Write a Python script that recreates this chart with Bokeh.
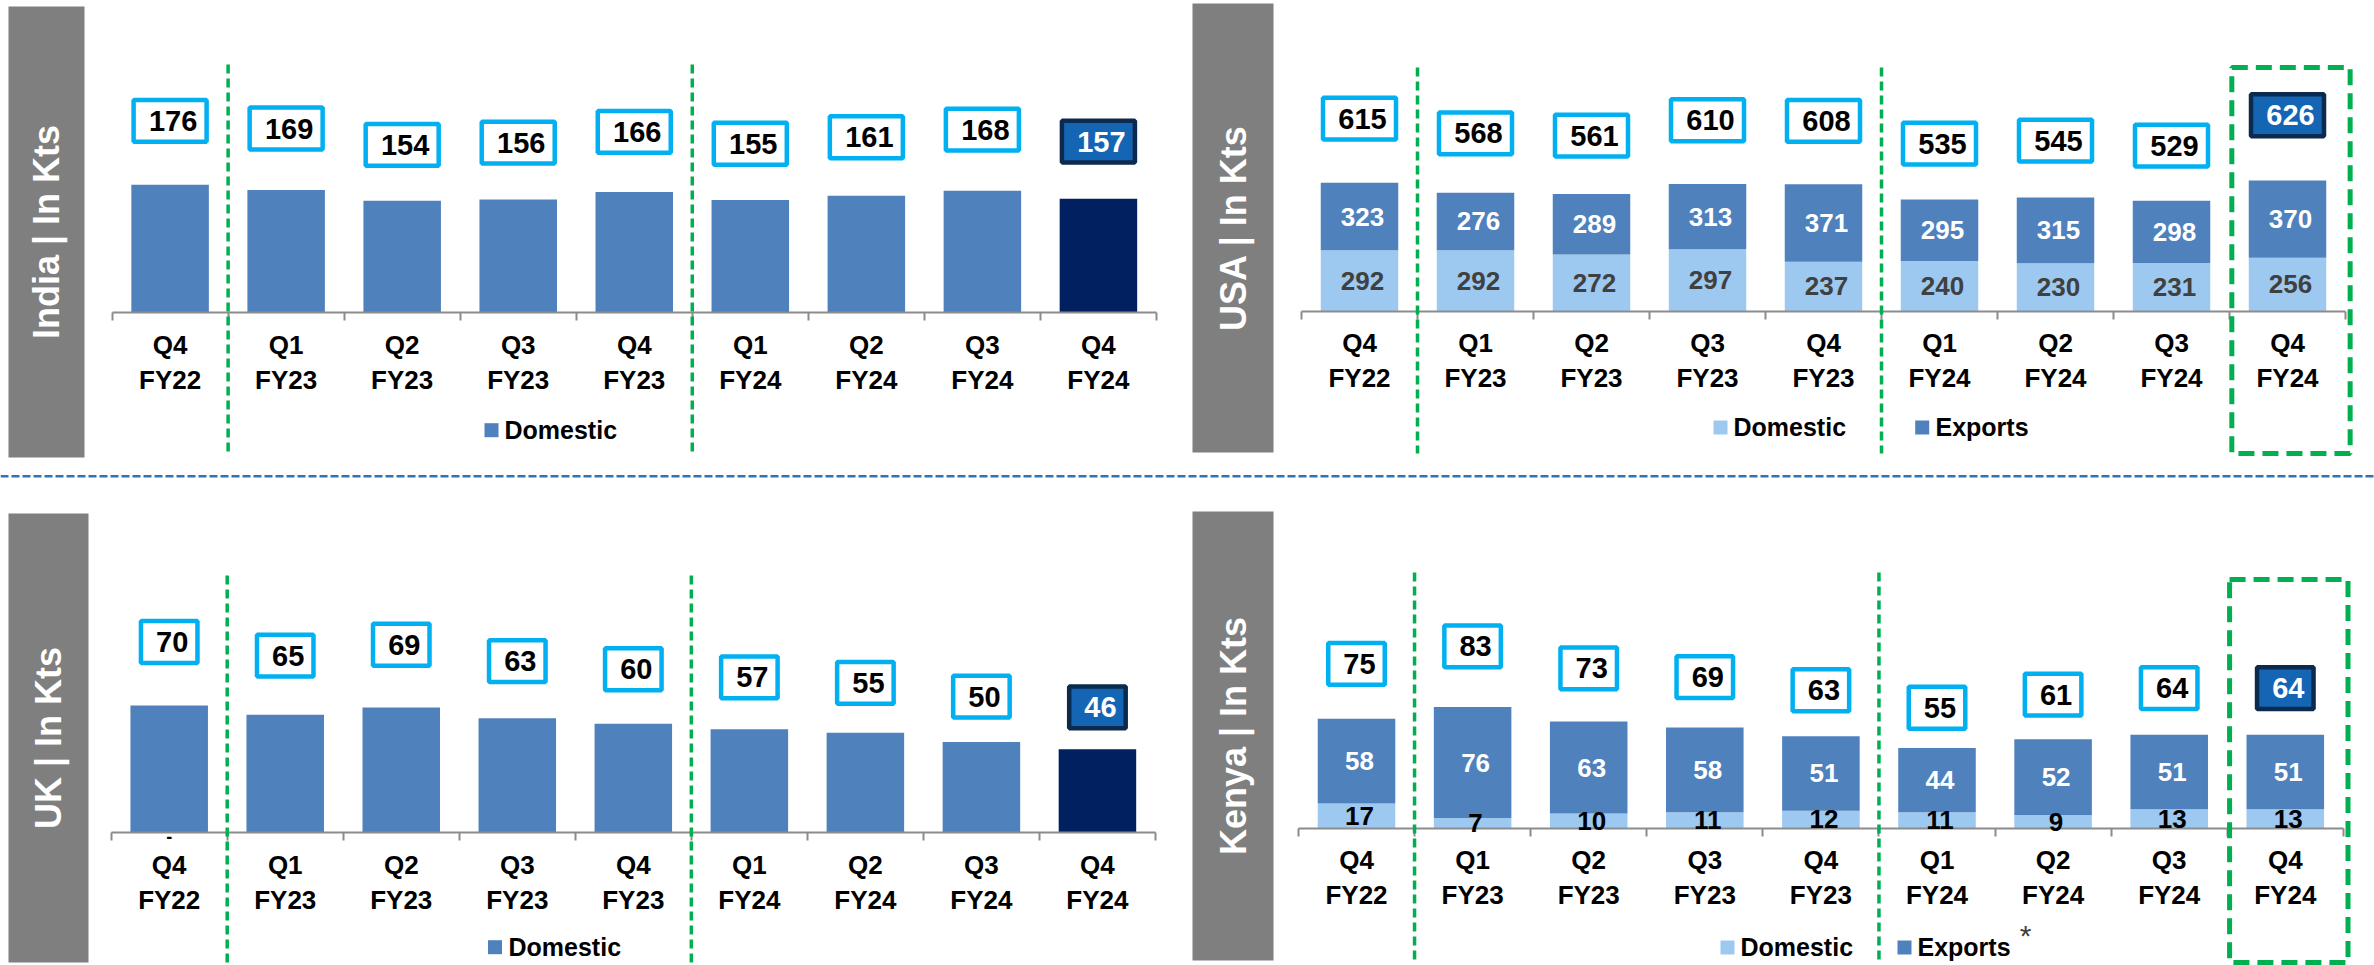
import math
from bokeh.plotting import figure
from bokeh.models import Range1d, LinearAxis, FixedTicker
from bokeh.core.properties import value
from bokeh.embed import file_html
from bokeh.resources import INLINE

# ---------------- data ----------------
quarter_labels = ["Q4", "Q1", "Q2", "Q3", "Q4", "Q1", "Q2", "Q3", "Q4"]
year_labels = ["FY22", "FY23", "FY23", "FY23", "FY23", "FY24", "FY24", "FY24", "FY24"]

india_domestic = [176, 169, 154, 156, 166, 155, 161, 168, 157]
uk_domestic = [70, 65, 69, 63, 60, 57, 55, 50, 46]
usa_domestic = [292, 292, 272, 297, 237, 240, 230, 231, 256]
usa_exports = [323, 276, 289, 313, 371, 295, 315, 298, 370]
kenya_domestic = [17, 7, 10, 11, 12, 11, 9, 13, 13]
kenya_exports = [58, 76, 63, 58, 51, 44, 52, 51, 51]

panel_titles = {"india": "India | In Kts", "usa": "USA | In Kts",
                "uk": "UK | In Kts", "kenya": "Kenya | In Kts"}
series_names = ["Domestic", "Exports"]

# ---------------- styling / layout ----------------
W, H, OFF = 2374, 965, 0
FONT = "Liberation Sans"
BLUE = "#4F81BD"
NAVY = "#002060"
LIGHT = "#9DC8F0"
CYAN = "#00B0F0"
HL_FILL = "#1565B5"
HL_LINE = "#0B2A4E"
GRAY = "#7F7F7F"
GREEN = "#00B050"
AXIS = "#8C8C8C"
LABEL_FACTOR = 1.5  # total labels sit on a hidden line at 1.5x the total

geom = {
    "india": dict(px0=169.6, step=116.04, base=312.3, k=0.727,
                  box=(8, 84, 6, 457), vl=(64, 452)),
    "usa": dict(px0=1359.0, step=116.0, base=310.7, k=0.2087,
                box=(1192, 1273, 3, 452), vl=(67, 453), hl=(67, 453)),
    "uk": dict(px0=168.7, step=116.03, base=832.3, k=1.817,
               box=(8, 88, 513, 962), vl=(575, 962)),
    "kenya": dict(px0=1356.0, step=116.1, base=827.7, k=1.46,
                  box=(1192, 1273, 511, 960), vl=(572, 961), hl=(579, 962)),
}

p = figure(width=W, height=H, x_range=Range1d(OFF, OFF + W), y_range=Range1d(OFF + H, OFF),
           x_axis_type=None, y_axis_type=None, toolbar_location=None,
           output_backend="svg", min_border=0)
p.outline_line_color = None
p.background_fill_color = "white"
p.border_fill_color = "white"

xr, yr = {}, {}
for key, g in geom.items():
    x0 = (OFF - g["px0"]) / g["step"]
    xr[key] = Range1d(x0, x0 + W / g["step"])
    y1 = (g["base"] - OFF) / g["k"]
    yr[key] = Range1d(y1 - H / g["k"], y1)
p.extra_x_ranges = xr
p.extra_y_ranges = yr

n = len(quarter_labels)
idx = list(range(n))
tick_text = {i: f"{q}\n{y}" for i, (q, y) in enumerate(zip(quarter_labels, year_labels))}
year_breaks = [i - 0.5 for i in range(1, n) if year_labels[i] != year_labels[i - 1]]


def draw_panel(key, stacks, stack_colors, label_colors):
    g = geom[key]
    kw = dict(x_range_name=key, y_range_name=key)
    # gray title box
    l, r, t, b = g["box"]
    p.quad(left=[l], right=[r], top=[t], bottom=[b], fill_color=GRAY, line_color=None)
    p.text(x=[(l + r) / 2], y=[(t + b) / 2], text=[panel_titles[key]], angle=math.pi / 2,
           text_font=value(FONT), text_font_style="bold", text_font_size="36px",
           text_color="white", text_align="center", text_baseline="middle")
    # bars
    bottom = [0] * n
    for vals, cols, lcol in zip(stacks, stack_colors, label_colors):
        top = [bb + v for bb, v in zip(bottom, vals)]
        p.vbar(x=idx, bottom=bottom, top=top, width=0.668, fill_color=cols,
               line_color=None, **kw)
        if lcol is not None:
            p.text(x=idx, y=[(bb + tt) / 2 for bb, tt in zip(bottom, top)],
                   text=[str(v) for v in vals], x_offset=3,
                   text_font=value(FONT), text_font_style="bold", text_font_size="26px",
                   text_color=lcol, text_align="center", text_baseline="middle",
                   level="overlay", **kw)
        bottom = top
    totals = bottom
    # total label boxes
    ly = [LABEL_FACTOR * tt for tt in totals]
    bw = [28 + 16.5 * len(str(tt)) - 4.5 for tt in totals]
    p.rect(x=idx, y=ly, width=bw, height=41.8, width_units="screen", height_units="screen",
           fill_color=["white"] * (n - 1) + [HL_FILL], line_color=[CYAN] * (n - 1) + [HL_LINE],
           line_width=4.5, level="overlay", **kw)
    p.text(x=idx, y=ly, text=[str(tt) for tt in totals], x_offset=3,
           text_font=value(FONT), text_font_style="bold", text_font_size="29px",
           text_color=["black"] * (n - 1) + ["white"], text_align="center",
           text_baseline="middle", level="overlay", **kw)
    # axis at baseline
    ax = LinearAxis(x_range_name=key, y_range_name=key, fixed_location=0,
                    ticker=FixedTicker(ticks=idx, minor_ticks=[i - 0.5 for i in range(n + 1)]),
                    major_label_overrides=tick_text, bounds=(-0.5, n - 0.5))
    ax.axis_line_color = AXIS
    ax.axis_line_width = 2
    ax.major_tick_line_color = None
    ax.major_tick_out = 0
    ax.major_tick_in = 0
    ax.minor_tick_line_color = AXIS
    ax.minor_tick_line_width = 2
    ax.minor_tick_out = 8
    ax.minor_tick_in = 0
    ax.major_label_text_font = FONT
    ax.major_label_text_font_style = "bold"
    ax.major_label_text_font_size = "26px"
    ax.major_label_text_color = "black"
    ax.major_label_text_line_height = 1.17
    ax.major_label_standoff = 9
    p.add_layout(ax, "below")
    # green dashed year separators
    vt, vb = g["vl"]
    p.segment(x0=year_breaks, x1=year_breaks, y0=[vt] * len(year_breaks), y1=[vb] * len(year_breaks),
              line_color=GREEN, line_width=3.5, line_dash="9 5", level="overlay",
              x_range_name=key)
    if "hl" in g:
        ht, hb = g["hl"]
        p.quad(left=[n - 1 - 0.48], right=[n - 1 + 0.54], top=[ht], bottom=[hb],
               fill_color=None, line_color=GREEN, line_width=5, line_dash="16 8",
               level="overlay", x_range_name=key)


single_cols = [BLUE] * (n - 1) + [NAVY]
draw_panel("india", [india_domestic], [single_cols], [None])
draw_panel("uk", [uk_domestic], [single_cols], [None])
draw_panel("usa", [usa_domestic, usa_exports], [LIGHT, BLUE], ["#404040", "white"])
draw_panel("kenya", [kenya_domestic, kenya_exports], [LIGHT, BLUE], ["black", "white"])

# small dash mark under UK first bar
p.text(x=[0], y=[836], text=["-"], text_font=value(FONT), text_font_style="bold",
       text_font_size="18px", text_color="black", text_align="center", text_baseline="middle",
       x_range_name="uk")

# horizontal separator
p.segment(x0=[0], x1=[2374], y0=[475.7], y1=[475.7], line_color="#2E75B6",
          line_width=2.5, line_dash="8 3")

# legends (manual)
leg_sq = dict(x=[491, 494.5, 1720, 1921.7, 1727, 1904],
              y=[429.7, 946.7, 427, 427, 947, 947],
              c=[BLUE, BLUE, LIGHT, BLUE, LIGHT, BLUE])
p.rect(x=leg_sq["x"], y=leg_sq["y"], width=14, height=14, width_units="screen",
       height_units="screen", fill_color=leg_sq["c"], line_color=None)
p.text(x=[504, 508, 1733, 1935, 1740, 1917],
       y=[429, 946.5, 426.7, 426.7, 946.5, 946.5],
       text=[series_names[0], series_names[0], series_names[0], series_names[1],
             series_names[0], series_names[1]],
       text_font=value(FONT), text_font_style="bold", text_font_size="25px",
       text_color="black", text_align="left", text_baseline="middle")
p.text(x=[2025], y=[935], text=["*"], text_font=value(FONT), text_font_size="30px",
       text_color="#404040", text_align="center", text_baseline="middle")

open("out.html", "w").write(file_html(p, INLINE))
